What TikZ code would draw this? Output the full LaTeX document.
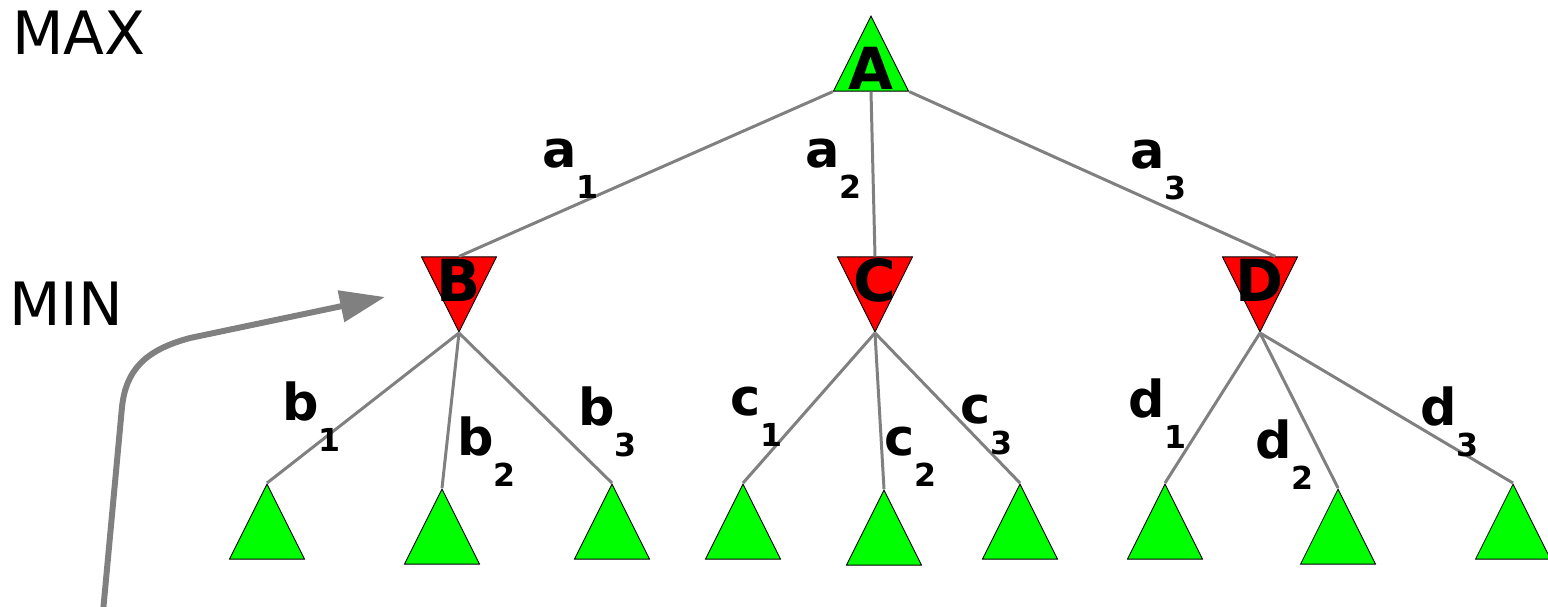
\documentclass[tikz,border=0pt]{standalone}
\usepackage{fontspec}
\setmainfont{DejaVu Sans}
\usetikzlibrary{arrows.meta, shapes.geometric, calc}
\definecolor{maxgreen}{RGB}{0,255,0}
\definecolor{minred}{RGB}{255,0,0}
\definecolor{linegray}{RGB}{128,128,128}
\newcommand{\mv}[2]{#1\raisebox{-18pt}{\fontsize{18}{18}\selectfont #2}}

\begin{document}
\begin{tikzpicture}[x=0.02cm, y=-0.02cm,
  tri/.style={isosceles triangle, isosceles triangle stretches, minimum width=1.5cm, minimum height=1.5cm, inner sep=0pt, draw=black, line width=0.5pt},
  maxnode/.style={tri, shape border rotate=90, fill=maxgreen},
  minnode/.style={tri, shape border rotate=270, fill=minred},
  branch/.style={draw=linegray, line width=1.7pt},
  flow/.style={draw=linegray, line width=3.4pt, -{Triangle[length=0.9cm, width=0.62cm]}},
  lbl/.style={font=\fontsize{29}{29}\selectfont\bfseries, inner sep=0pt, anchor=base west},
  side/.style={font=\fontsize{34}{34}\selectfont, inner sep=0pt, anchor=base west},
  every label/.style={font=\fontsize{33}{33}\selectfont\bfseries, inner sep=0pt}]
  \useasboundingbox (0,0) rectangle (1548,606);

  % players
  \node[side] (max) at (12,54) {MAX};
  \node[side] (min) at (9,325) {MIN};

  % root and MIN level
  \node[maxnode, label=center:A] (A) at (871,68) {};
  \node[minnode, label=center:B] (B) at (459,280) {};
  \node[minnode, label=center:C] (C) at (875,280) {};
  \node[minnode, label=center:D] (D) at (1260,280) {};

  % leaves
  \node[maxnode] (B1) at (267,536) {};
  \node[maxnode] (B2) at (442,541) {};
  \node[maxnode] (B3) at (612,536) {};
  \node[maxnode] (C1) at (743,536) {};
  \node[maxnode] (C2) at (884,542) {};
  \node[maxnode] (C3) at (1020,536) {};
  \node[maxnode] (D1) at (1165,536) {};
  \node[maxnode] (D2) at (1338,541) {};
  \node[maxnode] (D3) at (1513,536) {};

  \draw[branch] (A.left corner) -- (B.lower side);
  \draw[branch] (A.lower side) -- (C.lower side);
  \draw[branch] (A.right corner) -- ($(D.lower side)!0.4!(D.left corner)$);

  \draw[branch] (B.apex) -- (B1.apex);
  \draw[branch] (B.apex) -- (B2.apex);
  \draw[branch] (B.apex) -- (B3.apex);
  \draw[branch] (C.apex) -- (C1.apex);
  \draw[branch] (C.apex) -- (C2.apex);
  \draw[branch] (C.apex) -- (C3.apex);
  \draw[branch] (D.apex) -- (D1.apex);
  \draw[branch] (D.apex) -- (D2.apex);
  \draw[branch] (D.apex) -- (D3.apex);

  % move labels
  \node[lbl] (la1) at (542,167) {\mv{a}{1}};
  \node[lbl] (la2) at (805,167) {\mv{a}{2}};
  \node[lbl] (la3) at (1130,168) {\mv{a}{3}};
  \node[lbl] (lb1) at (282,420) {\mv{b}{1}};
  \node[lbl] (lb2) at (457,455) {\mv{b}{2}};
  \node[lbl] (lb3) at (578,425) {\mv{b}{3}};
  \node[lbl] (lc1) at (730,415) {\mv{c}{1}};
  \node[lbl] (lc2) at (884,455) {\mv{c}{2}};
  \node[lbl] (lc3) at (960,423) {\mv{c}{3}};
  \node[lbl] (ld1) at (1128,417) {\mv{d}{1}};
  \node[lbl] (ld2) at (1255,458) {\mv{d}{2}};
  \node[lbl] (ld3) at (1420,425) {\mv{d}{3}};

  % search direction
  \coordinate (start) at (103,612);
  \coordinate (tip) at (385,297);
  \draw[flow] (start) -- (122,407) .. controls (126,370) and (145,350) .. (190,338) -- (tip);
\end{tikzpicture}
\end{document}
